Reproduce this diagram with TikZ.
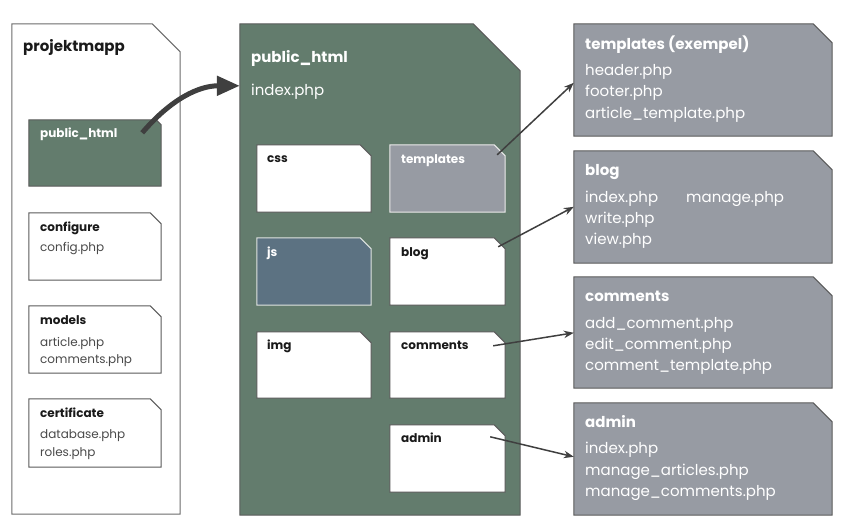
\documentclass[tikz,border=0pt]{standalone}
\usepackage{fontspec}
\setmainfont{Poppins}
\usetikzlibrary{arrows.meta}
\definecolor{pgreen}{HTML}{637C6D}
\definecolor{pgrey}{HTML}{979BA3}
\definecolor{pblue}{HTML}{5C7282}
\definecolor{darr}{HTML}{3F3F3F}
\definecolor{bord}{HTML}{5A5A5A}
\definecolor{txtdark}{HTML}{1A1A1A}
\definecolor{txtgrey}{HTML}{4A4A4A}
\newcommand\dirbox[7]{%
  \node[minimum width={#4-#2}, minimum height={#5-#3}, inner sep=0pt, draw=none] (#1) at ({(#2+#4)/2},{(#3+#5)/2}) {};
  \path[#7] (#1.north west) -- ([xshift=-#6pt]#1.north east) -- ([yshift=-#6pt]#1.north east) -- (#1.south east) -- (#1.south west) -- cycle;
}
\begin{document}
\begin{tikzpicture}[x=1pt,y=-1pt,
  outerbox/.style={fill=white, draw=bord!90, line width=1pt},
  greenbox/.style={fill=pgreen, draw=bord, line width=1pt},
  whitebox/.style={fill=white, draw=bord, line width=1pt},
  greyin/.style={fill=pgrey, draw=white!85!gray, line width=1pt},
  bluein/.style={fill=pblue, draw=white!80!pgreen, line width=1pt},
  greybox/.style={fill=pgrey, draw=bord, line width=1pt},
  bigttl/.style={font=\fontsize{15}{18}\selectfont\bfseries, inner sep=0pt, anchor=base west},
  bigtxt/.style={font=\fontsize{15}{18}\selectfont, inner sep=0pt, anchor=base west},
  smttl/.style={font=\fontsize{12}{14}\selectfont\bfseries, inner sep=0pt, anchor=base west},
  smtxt/.style={font=\fontsize{12}{14}\selectfont, inner sep=0pt, anchor=base west, text=txtgrey},
  thinarr/.style={draw=darr, line width=1.5pt, -{Stealth[length=10pt,width=7.5pt]}},
  bigarr/.style={draw=darr, line width=5pt, -{Triangle[length=23pt,width=19pt]}}
]
\useasboundingbox (0,0) rectangle (848,532);

% left column
\dirbox{proj}{12}{24}{180}{514}{28}{outerbox}
\node[bigttl, text=txtdark] (tProj) at (23,52) {projektmapp};
\dirbox{pubsmall}{29}{120}{161}{186}{5}{greenbox}
\node[smttl, text=white] (tPubsmall) at (40,138) {public\_html};
\dirbox{conf}{29}{213}{161}{280}{11}{whitebox}
\node[smttl, text=txtdark] (tConf) at (40,231) {configure};
\node[smtxt] (fConf) at (40,251) {config.php};
\dirbox{models}{29}{306}{161}{373}{11}{whitebox}
\node[smttl, text=txtdark] (tModels) at (40,324) {models};
\node[smtxt] (fModelsA) at (40,346) {article.php};
\node[smtxt] (fModelsB) at (40,363) {comments.php};
\dirbox{cert}{29}{399}{161}{467}{11}{whitebox}
\node[smttl, text=txtdark] (tCert) at (40,417) {certificate};
\node[smtxt] (fCertA) at (40,438) {database.php};
\node[smtxt] (fCertB) at (40,456) {roles.php};

% middle
\dirbox{mid}{240}{24}{520}{515}{47}{greenbox}
\node[bigttl, text=white] (tMid) at (251,63) {public\_html};
\node[bigtxt, text=white] (fMid) at (251,96) {index.php};
\dirbox{css}{257}{145}{371}{212}{11}{whitebox}
\node[smttl, text=txtdark] (tCss) at (267,162) {css};
\dirbox{tplin}{390}{145}{505}{212}{11}{greyin}
\node[smttl, text=white] (tTplin) at (401,163) {templates};
\dirbox{js}{257}{238}{371}{305}{11}{bluein}
\node[smttl, text=white] (tJs) at (267,256) {js};
\dirbox{blogin}{390}{238}{505}{305}{11}{whitebox}
\node[smttl, text=txtdark] (tBlogin) at (401,256) {blog};
\dirbox{img}{257}{332}{371}{398}{11}{whitebox}
\node[smttl, text=txtdark] (tImg) at (267,349) {img};
\dirbox{commin}{390}{332}{505}{398}{11}{whitebox}
\node[smttl, text=txtdark] (tCommin) at (401,349) {comments};
\dirbox{adminin}{390}{425}{505}{492}{11}{whitebox}
\node[smttl, text=txtdark] (tAdminin) at (401,442) {admin};

% right column
\dirbox{tplR}{574}{24}{832}{136}{19}{greybox}
\node[bigttl, text=white] (tTplR) at (585,50) {templates (exempel)};
\node[bigtxt, text=white] (fTplRA) at (585,76) {header.php};
\node[bigtxt, text=white] (fTplRB) at (585,97) {footer.php};
\node[bigtxt, text=white] (fTplRC) at (585,118) {article\_template.php};
\dirbox{blogR}{574}{151}{832}{263}{19}{greybox}
\node[bigttl, text=white] (tBlogR) at (585,175) {blog};
\node[bigtxt, text=white] (fBlogRA) at (585,202) {index.php};
\node[bigtxt, text=white] (fBlogRD) at (686,202) {manage.php};
\node[bigtxt, text=white] (fBlogRB) at (585,223) {write.php};
\node[bigtxt, text=white] (fBlogRC) at (585,244) {view.php};
\dirbox{commR}{574}{277}{832}{388}{19}{greybox}
\node[bigttl, text=white] (tCommR) at (585,301) {comments};
\node[bigtxt, text=white] (fCommRA) at (585,328) {add\_comment.php};
\node[bigtxt, text=white] (fCommRB) at (585,349) {edit\_comment.php};
\node[bigtxt, text=white] (fCommRC) at (585,370) {comment\_template.php};
\dirbox{adminR}{574}{403}{832}{515}{19}{greybox}
\node[bigttl, text=white] (tAdminR) at (585,427) {admin};
\node[bigtxt, text=white] (fAdminRA) at (585,453) {index.php};
\node[bigtxt, text=white] (fAdminRB) at (585,475) {manage\_articles.php};
\node[bigtxt, text=white] (fAdminRC) at (585,496) {manage\_comments.php};

% connectors
\draw[bigarr] ([xshift=-19pt,yshift=-13pt]pubsmall.north east) .. controls +(30,-35) and +(-40,0) .. ([yshift=-62pt]mid.north west);
\draw[thinarr] ([xshift=-8pt,yshift=-10pt]tplin.north east) -- ([yshift=-59pt]tplR.north west);
\draw[thinarr] ([xshift=-7pt,yshift=-9pt]blogin.north east) -- ([yshift=-56pt]blogR.north west);
\draw[thinarr] ([xshift=-12pt,yshift=-14pt]commin.north east) -- ([yshift=-56pt]commR.north west);
\draw[thinarr] ([xshift=-15pt,yshift=-12pt]adminin.north east) -- ([yshift=-54pt]adminR.north west);
\end{tikzpicture}
\end{document}
